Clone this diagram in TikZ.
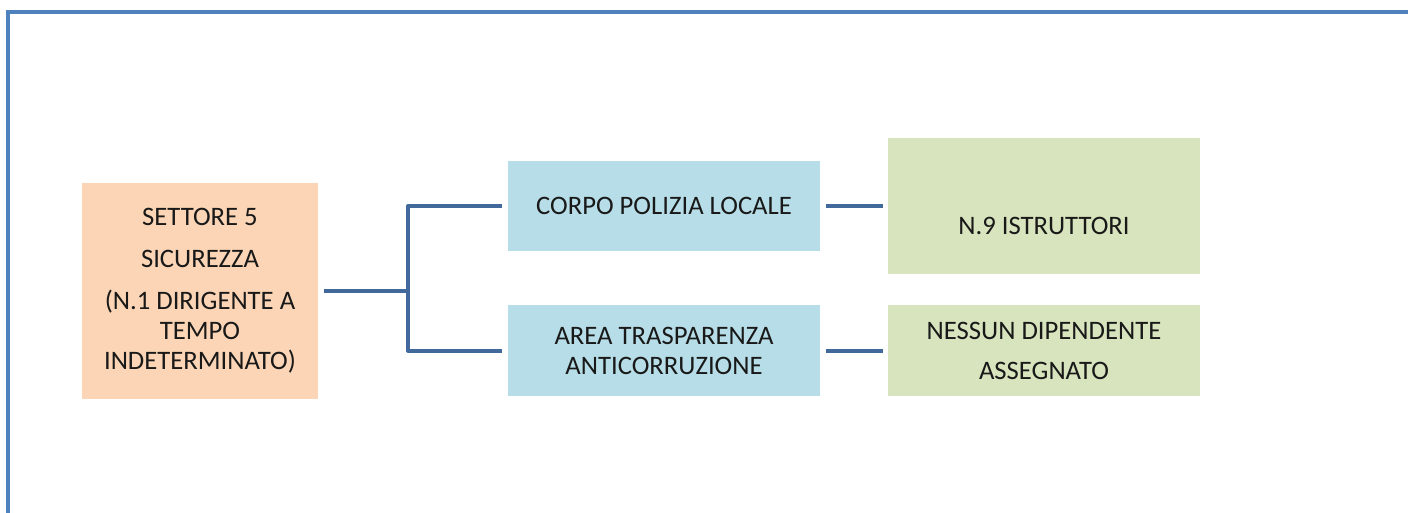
\documentclass[tikz,border=0pt]{standalone}
\usepackage{fontspec}
\setmainfont{Carlito}
\usetikzlibrary{calc}
\definecolor{frameblue}{HTML}{4F81BD}
\definecolor{connblue}{HTML}{41699C}
\definecolor{orangefill}{HTML}{FBD5B5}
\definecolor{bluefill}{HTML}{B7DEE8}
\definecolor{greenfill}{HTML}{D7E4BD}
\tikzset{
  box/.style={rectangle, draw=none, align=center, inner sep=0pt,
    font=\fontsize{20}{22.5}\selectfont, text=black!90},
  orangebox/.style={box, fill=orangefill, minimum width=236*0.75pt, minimum height=216*0.75pt},
  bluebox/.style={box, fill=bluefill, minimum width=312*0.75pt, minimum height=90*0.75pt},
  greenbox/.style={box, fill=greenfill, minimum width=312*0.75pt, minimum height=91*0.75pt},
  conn/.style={draw=connblue, line width=3pt, line join=round},
  framestyle/.style={draw=frameblue, line width=2.4pt}
}
\begin{document}
\begin{tikzpicture}[x=0.75pt,y=-0.75pt]
\useasboundingbox (0,0) rectangle (1408,513);
\fill[white] (0,0) rectangle (1408,513);
\coordinate (fbl) at (8,520);
\coordinate (ftl) at (8,12);
\coordinate (ftr) at (1415,12);
\draw[framestyle] (fbl) -- (ftl) -- (ftr);

\node[orangebox] (settore) at (200,291) {SETTORE 5\\[9pt]SICUREZZA\\[9pt](N.1 DIRIGENTE A\\TEMPO\\INDETERMINATO)};
\node[bluebox] (corpo) at (664,206) {CORPO POLIZIA LOCALE};
\node[bluebox, minimum height=91*0.75pt] (area) at (664,350.5) {AREA TRASPARENZA\\ANTICORRUZIONE};
\node[greenbox, minimum height=136*0.75pt] (istr) at (1044,206) {\raisebox{-21pt}[0pt][0pt]{N.9 ISTRUTTORI}};
\node[greenbox] (nessun) at (1044,350.5) {NESSUN DIPENDENTE\\[7.5pt]ASSEGNATO};

\coordinate (j) at (408,291);
\draw[conn] ($(settore.east)+(6,0)$) -- (j);
\draw[conn] ($(corpo.west)+(-6,0)$) -| (j) |- ($(area.west)+(-6,0)$);
\draw[conn] ($(corpo.east)+(6,0)$) -- ($(istr.west)+(-5,0)$);
\draw[conn] ($(area.east)+(6,0)$) -- ($(nessun.west)+(-5,0)$);
\end{tikzpicture}
\end{document}
